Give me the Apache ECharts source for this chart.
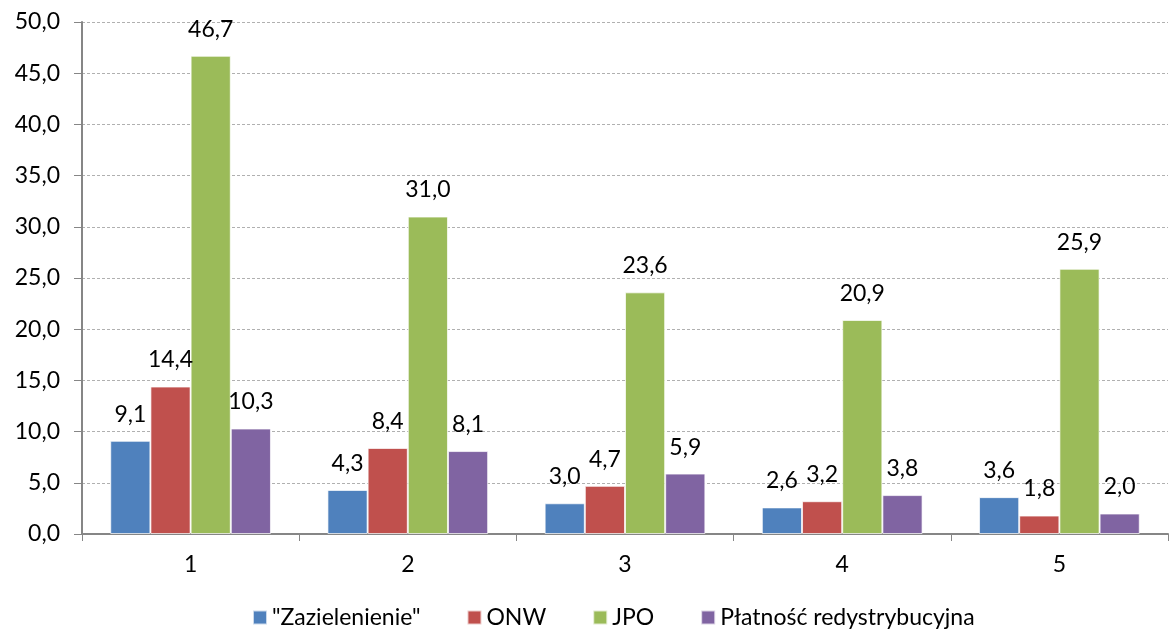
<!DOCTYPE html>
<html>
<head>
<meta charset="utf-8">
<script src="https://cdn.jsdelivr.net/npm/echarts@6/dist/echarts.min.js"></script>
<style>
  html, body { margin: 0; padding: 0; background: #fff; }
  #chart { width: 1170px; height: 636px; }
</style>
</head>
<body>
<div id="chart"></div>
<script>
  // dane wykresu
  var categories = ['1', '2', '3', '4', '5'];
  var seriesNames = ['"Zazielenienie"', 'ONW', 'JPO', 'Płatność redystrybucyjna'];
  var colors = ['#4f81bd', '#c0504d', '#9bbb59', '#8064a2'];
  var zazielenienie = [9.1, 4.3, 3.0, 2.6, 3.6];
  var onw = [14.4, 8.4, 4.7, 3.2, 1.8];
  var jpo = [46.7, 31.0, 23.6, 20.9, 25.9];
  var platnosc = [10.3, 8.1, 5.9, 3.8, 2.0];
  var values = [zazielenienie, onw, jpo, platnosc];

  function fmt(v) { return v.toFixed(1).replace('.', ','); }

  var myChart = echarts.init(document.getElementById('chart'));
  var font = 'Lato, "Open Sans", sans-serif';

  var series = seriesNames.map(function (name, i) {
    return {
      name: name,
      type: 'bar',
      data: values[i],
      barGap: '0%',
      barCategoryGap: '26%',
      itemStyle: { color: colors[i], borderColor: 'rgba(255,255,255,0.7)', borderWidth: 1 },
      label: {
        show: true,
        position: 'top',
        distance: 15,
        color: '#000',
        fontSize: 23,
        fontFamily: font,
        formatter: function (p) { return fmt(p.value); }
      }
    };
  });

  var option = {
    animation: false,
    color: colors,
    grid: { left: 82, right: 2, top: 22, bottom: 102, containLabel: false },
    legend: {
      bottom: 2,
      left: 247,
      itemWidth: 14,
      itemHeight: 14,
      itemGap: 46,
      icon: 'rect',
      textStyle: { fontSize: 23, fontFamily: font, color: '#000' },
      data: seriesNames
    },
    xAxis: {
      type: 'category',
      data: categories,
      axisLine: { lineStyle: { color: '#868686', width: 2 } },
      axisTick: { show: true, length: 7, lineStyle: { color: '#868686', width: 1 } },
      axisLabel: { fontSize: 23, fontFamily: font, color: '#000', margin: 19 }
    },
    yAxis: {
      type: 'value',
      min: 0,
      max: 50,
      interval: 5,
      axisLine: { show: true, lineStyle: { color: '#868686', width: 2 } },
      axisTick: { show: true, length: 8, lineStyle: { color: '#868686' } },
      splitLine: { lineStyle: { color: '#b0b0b0', type: [3, 2], width: 1 } },
      axisLabel: { fontSize: 23, fontFamily: font, color: '#000', margin: 22, formatter: fmt }
    },
    series: series
  };

  myChart.setOption(option);
</script>
</body>
</html>
